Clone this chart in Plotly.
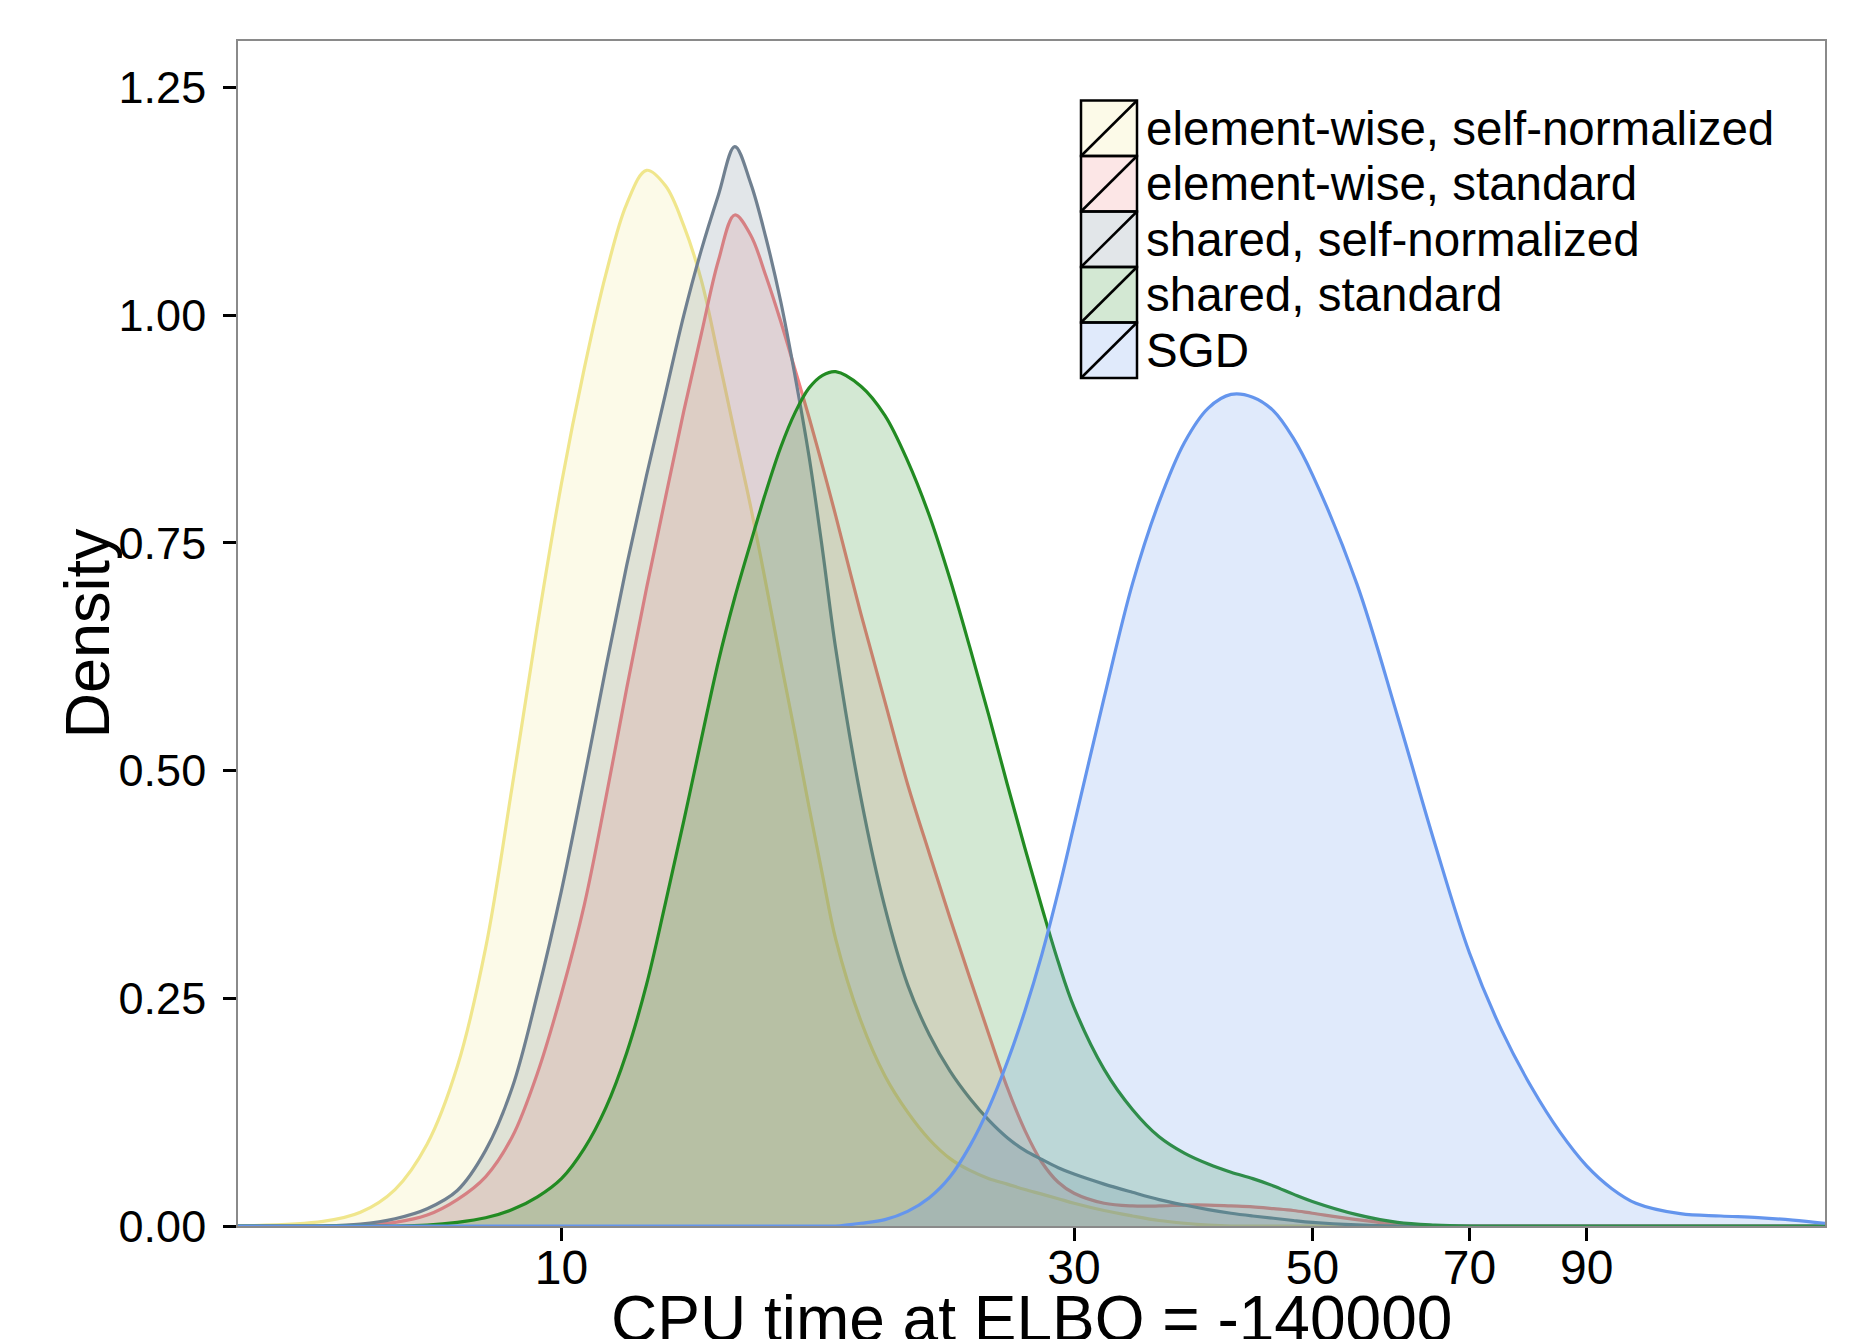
import math
import plotly.graph_objects as go

# ---------------- data ----------------
SERIES = ["element-wise, self-normalized", "element-wise, standard",
          "shared, self-normalized", "shared, standard", "SGD"]
LINE_COLORS = ["#F0E68C", "#F08080", "#708090", "#228B22", "#6495ED"]

CPU_TIME = [5, 6, 6.5, 7, 7.5, 8, 8.5, 9, 9.5, 10, 10.5, 11, 11.5, 12, 12.5, 13, 13.5,
            14, 14.5, 15, 15.5, 16, 16.5, 17, 17.5, 18, 19, 20, 21, 22, 23, 24, 25, 26,
            27, 28, 29, 30, 32, 34, 36, 38, 40, 42, 44, 46, 48, 50, 55, 60, 65, 70, 75,
            80, 85, 90, 95, 100, 110, 120, 130, 140, 150]

DENS_EW_SELFNORM = [0, 0.005, 0.015, 0.040, 0.090, 0.175, 0.305, 0.483, 0.660, 0.815, 0.941,
                    1.045, 1.122, 1.159, 1.142, 1.098, 1.038, 0.954, 0.870, 0.790, 0.705,
                    0.620, 0.540, 0.460, 0.385, 0.315, 0.225, 0.165, 0.125, 0.095, 0.074,
                    0.061, 0.052, 0.046, 0.040, 0.035, 0.030, 0.025, 0.017, 0.011, 0.006,
                    0.003, 0.001, 0, 0, 0, 0, 0, 0, 0, 0, 0, 0, 0, 0, 0, 0, 0, 0, 0, 0, 0, 0]

DENS_EW_STANDARD = [0, 0, 0.001, 0.004, 0.012, 0.029, 0.054, 0.098, 0.168, 0.255, 0.352,
                    0.470, 0.590, 0.700, 0.800, 0.895, 0.980, 1.060, 1.110, 1.088, 1.043,
                    0.993, 0.940, 0.888, 0.834, 0.780, 0.672, 0.576, 0.485, 0.409, 0.338,
                    0.272, 0.210, 0.152, 0.105, 0.070, 0.048, 0.036, 0.025, 0.022, 0.022,
                    0.023, 0.023, 0.022, 0.021, 0.019, 0.017, 0.014, 0.007, 0.002, 0,
                    0, 0, 0, 0, 0, 0, 0, 0, 0, 0, 0, 0]

DENS_SH_SELFNORM = [0, 0, 0.002, 0.008, 0.019, 0.039, 0.083, 0.152, 0.255, 0.368, 0.491,
                    0.613, 0.725, 0.824, 0.914, 1.000, 1.072, 1.132, 1.185, 1.145, 1.085,
                    1.015, 0.933, 0.845, 0.742, 0.634, 0.470, 0.350, 0.265, 0.210, 0.170,
                    0.140, 0.116, 0.097, 0.083, 0.073, 0.064, 0.057, 0.046, 0.037, 0.029,
                    0.023, 0.018, 0.014, 0.011, 0.0085, 0.006, 0.004, 0.0012, 0, 0,
                    0, 0, 0, 0, 0, 0, 0, 0, 0, 0, 0, 0]

DENS_SH_STANDARD = [0, 0, 0, 0, 0.001, 0.004, 0.009, 0.018, 0.032, 0.052, 0.085, 0.130,
                    0.190, 0.265, 0.355, 0.445, 0.535, 0.620, 0.690, 0.750, 0.806, 0.855,
                    0.893, 0.920, 0.934, 0.938, 0.922, 0.890, 0.840, 0.780, 0.710, 0.635,
                    0.560, 0.485, 0.415, 0.350, 0.290, 0.240, 0.172, 0.128, 0.098, 0.080,
                    0.068, 0.059, 0.052, 0.044, 0.035, 0.027, 0.0125, 0.004, 0.001, 0,
                    0, 0, 0, 0, 0, 0, 0, 0, 0, 0, 0]

DENS_SGD = [0, 0, 0, 0, 0, 0, 0, 0, 0, 0, 0, 0, 0, 0, 0, 0, 0, 0, 0, 0, 0, 0, 0, 0, 0, 0,
            0.003, 0.007, 0.016, 0.031, 0.054, 0.088, 0.130, 0.180, 0.236, 0.298, 0.367,
            0.440, 0.580, 0.705, 0.795, 0.860, 0.898, 0.913, 0.910, 0.895, 0.865, 0.825,
            0.705, 0.560, 0.420, 0.300, 0.215, 0.152, 0.103, 0.066, 0.041, 0.025, 0.0135,
            0.011, 0.0093, 0.0065, 0.003]

DENSITIES = [DENS_EW_SELFNORM, DENS_EW_STANDARD, DENS_SH_SELFNORM, DENS_SH_STANDARD, DENS_SGD]

Y_TICKS = [0, 0.25, 0.5, 0.75, 1.0, 1.25]
X_TICKS = [10, 30, 50, 70, 90]
X_TICK_TEXT = ["10", "30", "50", "70", "90"]
X_TITLE = "CPU time at ELBO = -140000"
Y_TITLE = "Density"

# ---------------- styling ----------------
FONT = "Liberation Sans, Arial, Helvetica, sans-serif"
W, H = 1854, 1339
ML, MR, MT, MB = 238, 29, 41, 113
PW, PH = W - ML - MR, H - MT - MB
FILL_ALPHA = 0.2


def rgba(hex_color, a):
    h = hex_color.lstrip("#")
    r, g, b = int(h[0:2], 16), int(h[2:4], 16), int(h[4:6], 16)
    return f"rgba({r},{g},{b},{a})"


def px_to_paper_x(px):
    return (px - ML) / PW


def px_to_paper_y(py):
    return (H - MB - py) / PH


fig = go.Figure()
for name, col, dens in zip(SERIES, LINE_COLORS, DENSITIES):
    fig.add_trace(go.Scatter(
        x=CPU_TIME, y=dens, name=name, mode="lines",
        line=dict(color=col, width=3.2, shape="spline", smoothing=1.0),
        fill="tozeroy", fillcolor=rgba(col, FILL_ALPHA),
        hoverinfo="skip", showlegend=False,
    ))

axis_common = dict(
    showgrid=False, zeroline=False,
    showline=True, linecolor="#8a8a8a", linewidth=1.6, mirror=True,
    ticks="outside", ticklen=13, tickwidth=2.5, tickcolor="black",
)

fig.update_xaxes(type="log", range=[math.log10(5), math.log10(150)],
                 tickvals=X_TICKS, ticktext=X_TICK_TEXT, ticklabelstandoff=-14,
                 tickfont=dict(family=FONT, size=48, color="black"),
                 **axis_common)
fig.update_yaxes(range=[0, 1.301], tickvals=Y_TICKS, tickformat=".2f",
                 ticklabelstandoff=8,
                 tickfont=dict(family=FONT, size=45, color="black"),
                 **axis_common)

annotations = [
    dict(text=X_TITLE, xref="paper", yref="paper", x=0.5, y=px_to_paper_y(1281),
         xanchor="center", yanchor="top", showarrow=False,
         font=dict(family=FONT, size=64, color="black")),
    dict(text=Y_TITLE, xref="paper", yref="paper", x=px_to_paper_x(86), y=0.5,
         xanchor="center", yanchor="middle", textangle=-90, showarrow=False,
         font=dict(family=FONT, size=63, color="black")),
]

# manual legend (ggplot-style keys with a diagonal slash)
KEY_X0, KEY_X1 = 1081, 1137
KEY_TOP, KEY_H = 100.5, 55.5
TEXT_X = 1144
shapes = []
for i, (name, col) in enumerate(zip(SERIES, LINE_COLORS)):
    top = KEY_TOP + i * KEY_H
    bot = top + KEY_H
    shapes.append(dict(type="rect", xref="paper", yref="paper",
                       x0=px_to_paper_x(KEY_X0), x1=px_to_paper_x(KEY_X1),
                       y0=px_to_paper_y(bot), y1=px_to_paper_y(top),
                       fillcolor=rgba(col, FILL_ALPHA), line=dict(color="black", width=2.5)))
    shapes.append(dict(type="line", xref="paper", yref="paper",
                       x0=px_to_paper_x(KEY_X0), x1=px_to_paper_x(KEY_X1),
                       y0=px_to_paper_y(bot), y1=px_to_paper_y(top),
                       line=dict(color="black", width=2.5)))
    annotations.append(dict(text=name, xref="paper", yref="paper",
                            x=px_to_paper_x(TEXT_X), y=px_to_paper_y(top + KEY_H / 2),
                            xanchor="left", yanchor="middle", showarrow=False,
                            font=dict(family=FONT, size=47.5, color="black")))

fig.update_layout(
    width=W, height=H,
    margin=dict(l=ML, r=MR, t=MT, b=MB, autoexpand=False),
    paper_bgcolor="white", plot_bgcolor="white",
    showlegend=False,
    annotations=annotations, shapes=shapes,
)

fig.write_html(
    "out.html",
    config={"displayModeBar": False},
    post_script="document.body.style.margin='0';document.body.style.padding='0';"
                "document.body.style.overflow='hidden';",
)
